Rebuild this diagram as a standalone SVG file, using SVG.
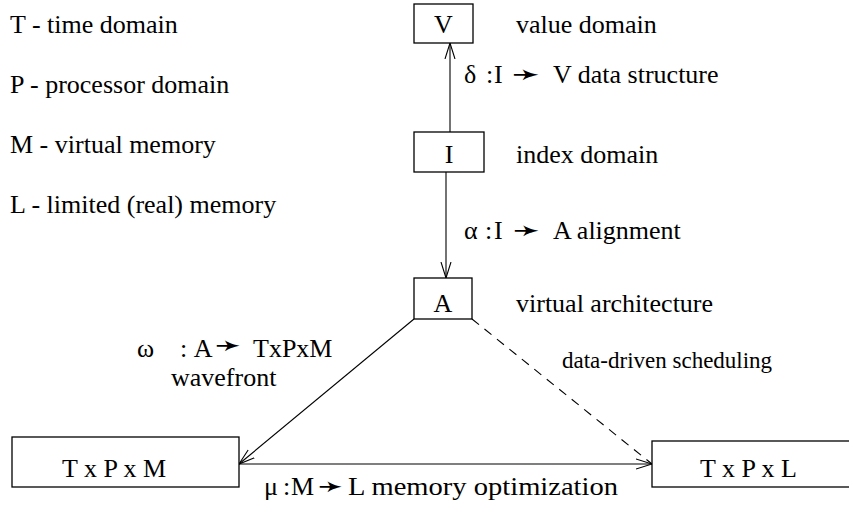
<svg xmlns="http://www.w3.org/2000/svg" width="849" height="508" viewBox="0 0 849 508">
<style>
text{font-family:"Liberation Serif","Times New Roman",serif;font-size:26px;fill:#000}
.arw{font-family:"DejaVu Sans",sans-serif;font-size:30px}
.box{fill:#fff;stroke:#000;stroke-width:1.3}
.ln{stroke:#000;stroke-width:1.1;fill:none}
.mid{text-anchor:middle}
</style>
<defs>
<marker id="ah" viewBox="0 0 16 12" refX="16" refY="6" markerWidth="16" markerHeight="12" markerUnits="userSpaceOnUse" orient="auto">
<path d="M0,1 L16,6 L0,11" fill="none" stroke="#000" stroke-width="1.1"/>
</marker>
</defs>
<rect width="849" height="508" fill="#fff"/>
<g id="legend">
<text x="10" y="33">T - time domain</text>
<text x="10" y="93">P - processor domain</text>
<text x="10" y="153">M - virtual memory</text>
<text x="10" y="213">L - limited (real) memory</text>
</g>
<g id="connectors">
<line class="ln" x1="450" y1="132" x2="450" y2="43" marker-end="url(#ah)"/>
<line class="ln" x1="446" y1="172" x2="446" y2="278" marker-end="url(#ah)"/>
<line class="ln" x1="414" y1="319" x2="239" y2="464" marker-end="url(#ah)"/>
<line class="ln" x1="472" y1="319" x2="652" y2="464" stroke-dasharray="9 7"/>
<line class="ln" x1="239" y1="464" x2="652" y2="464" marker-end="url(#ah)"/>
</g>
<g id="node-V">
<rect class="box" x="414" y="4" width="59" height="39"/>
<text class="mid" x="443.5" y="33">V</text>
<text x="516" y="33">value domain</text>
</g>
<g id="label-delta">
<text x="464" y="83">δ<tspan x="486">:</tspan><tspan x="494">I</tspan></text>
<text class="arw" x="512" y="84" textLength="28" lengthAdjust="spacingAndGlyphs">➛</text>
<text x="553" y="83">V data structure</text>
</g>
<g id="node-I">
<rect class="box" x="414" y="132" width="70" height="40"/>
<text class="mid" x="449" y="163">I</text>
<text x="516" y="163">index domain</text>
</g>
<g id="label-alpha">
<text x="464" y="239">α<tspan x="485">:</tspan><tspan x="494">I</tspan></text>
<text class="arw" x="513" y="240" textLength="27" lengthAdjust="spacingAndGlyphs">➛</text>
<text x="553" y="239">A alignment</text>
</g>
<g id="node-A">
<rect class="box" x="414" y="278" width="58" height="41"/>
<text class="mid" x="443" y="312">A</text>
<text x="516" y="312">virtual architecture</text>
</g>
<g id="label-omega">
<text x="137" y="357">ω<tspan x="180">: A</tspan></text>
<text class="arw" x="215" y="355" textLength="26" lengthAdjust="spacingAndGlyphs">➛</text>
<text x="253" y="357">TxPxM</text>
<text x="171" y="386">wavefront</text>
</g>
<g id="label-sched">
<text x="562" y="368" style="font-size:23px">data-driven scheduling</text>
</g>
<g id="node-TPM">
<rect class="box" x="12" y="437" width="227" height="50"/>
<text x="62" y="477">T x P x M</text>
</g>
<g id="node-TPL">
<rect class="box" x="652" y="441" width="210" height="46"/>
<text x="700" y="477">T x P x L</text>
</g>
<g id="label-mu">
<text x="264" y="495">μ<tspan x="283">:</tspan><tspan x="291">M</tspan></text>
<text class="arw" x="318" y="496" textLength="25" lengthAdjust="spacingAndGlyphs">➛</text>
<text x="348" y="495" textLength="270" lengthAdjust="spacingAndGlyphs">L memory optimization</text>
</g>
</svg>
